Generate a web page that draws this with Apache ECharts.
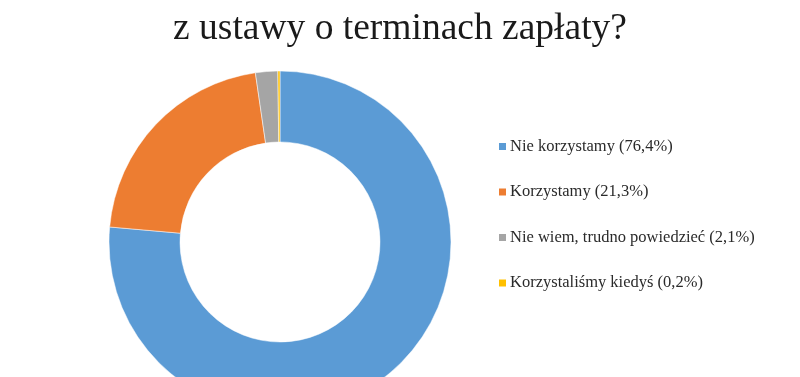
<!DOCTYPE html>
<html>
<head>
<meta charset="utf-8">
<script src="https://cdn.jsdelivr.net/npm/echarts@6/dist/echarts.min.js"></script>
<style>
  html, body { margin: 0; padding: 0; background: #fff; }
  #chart { width: 800px; height: 377px; }
</style>
</head>
<body>
<div id="chart"></div>
<script>
const titleText = 'z ustawy o terminach zapłaty?'
const categories = ['Nie korzystamy', 'Korzystamy', 'Nie wiem, trudno powiedzieć', 'Korzystaliśmy kiedyś']
const values = [76.4, 21.3, 2.1, 0.2]
const colors = ['#5b9bd5', '#ed7d31', '#a5a5a5', '#ffc000']

const fmt = (v) => v.toFixed(1).replace('.', ',') + '%'

const chart = echarts.init(document.getElementById('chart'))

chart.setOption({
  animation: false,
  color: colors,
  title: {
    text: titleText,
    left: 'center',
    top: 5,
    textStyle: {
      fontFamily: 'Liberation Serif',
      fontWeight: 'normal',
      fontSize: 37.5,
      color: '#1a1a1a',
    },
  },
  legend: {
    orient: 'vertical',
    left: 492,
    top: 133,
    itemWidth: 9,
    itemHeight: 9,
    itemGap: 28.5,
    icon: 'rect',
    textStyle: {
      fontFamily: 'Liberation Serif',
      fontSize: 16.5,
      color: '#2a2a2a',
      padding: [0, 0, 0, -2],
    },
    formatter: (name) => name + ' (' + fmt(values[categories.indexOf(name)]) + ')',
  },
  series: [
    {
      type: 'pie',
      center: [280, 242],
      radius: [100, 171],
      startAngle: 90,
      clockwise: true,
      silent: true,
      label: { show: false },
      labelLine: { show: false },
      itemStyle: { borderColor: '#fff', borderWidth: 0.5 },
      data: categories.map((c, i) => ({ name: c, value: values[i] })),
    },
  ],
})
</script>
</body>
</html>
